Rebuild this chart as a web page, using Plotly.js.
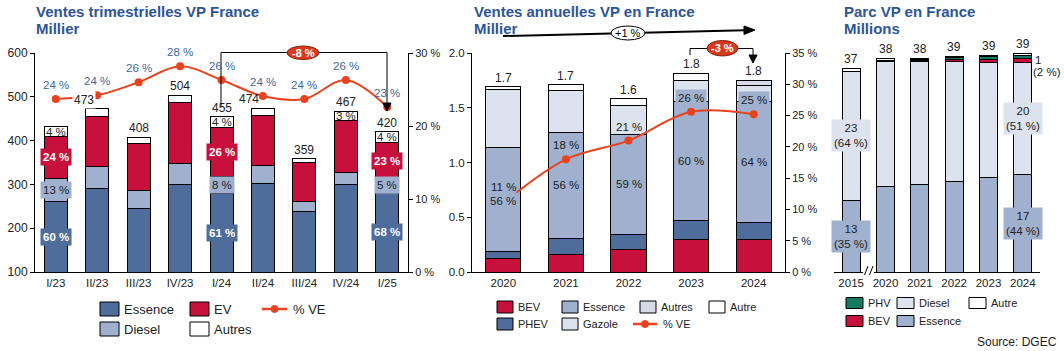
<!DOCTYPE html>
<html><head><meta charset="utf-8">
<script src="https://cdn.plot.ly/plotly-3.0.1.min.js"></script>
<style>html,body{margin:0;padding:0;background:#fff;}#chart{width:1064px;height:351px;}</style>
</head><body><div id="chart"></div>
<script>
// ---------- Panel 1: quarterly sales (thousands) ----------
const quarters = ['I/23','II/23','III/23','IV/23','I/24','II/24','III/24','IV/24','I/25'];
const qEssence = [262, 290, 246, 299, 280, 303, 237, 299, 283];
const qDiesel  = [ 52,  50,  41,  48,  37,  41,  25,  29,  29];
const qEV      = [ 95, 114, 107, 141, 114, 114,  87, 117,  83];
const qAutres  = [ 23,  19,  14,  16,  24,  16,  10,  22,  25];
const qTotalLabels = ['', '473', '408', '504', '455', '474', '359', '467', '420'];
const qShareVE = [23.7, 24.2, 26.0, 28.2, 26.3, 24.1, 23.7, 26.3, 22.6];
const qShareVELabels = ['24 %','24 %','26 %','28 %','26 %','24 %','24 %','26 %','23 %'];
const qEssLabels = ['60 %','','','','61 %','','','','68 %'];
const qDieLabels = ['13 %','','','','8 %','','','','5 %'];
const qEVLabels  = ['24 %','','','','26 %','','','','23 %'];
const qAutLabels = ['4 %','','','','4 %','','','3 %','4 %'];
const qChange = '-8 %';
const qLeftTicks = [100, 200, 300, 400, 500, 600];
const qRightTicks = [0, 10, 20, 30];

// ---------- Panel 2: annual sales (millions) ----------
const years = ['2020','2021','2022','2023','2024'];
const yBEV     = [0.12, 0.16, 0.21, 0.30, 0.30];
const yPHEV    = [0.07, 0.15, 0.13, 0.17, 0.15];
const yEssence = [0.95, 0.96, 0.92, 1.09, 1.11];
const yGazole  = [0.53, 0.39, 0.265, 0.19, 0.14];
const yAutres  = [0, 0, 0, 0, 0.05];
const yAutre   = [0.02, 0.05, 0.055, 0.065, 0];
const yTotalLabels = ['1.7','1.7','1.6','1.8','1.8'];
const yShareVE = [11, 18, 21, 25.6, 25.2];
const yShareVELabels = ['11 %','18 %','21 %','26 %','25 %'];
const yEssLabels = ['56 %','56 %','59 %','60 %','64 %'];
const yChange = '-3 %';
const yChangeLong = '+1 %';
const yLeftTicks = [0, 0.5, 1, 1.5, 2];
const yRightTicks = [0, 5, 10, 15, 20, 25, 30, 35];

// ---------- Panel 3: fleet (millions) ----------
const parcYears = ['2015','2020','2021','2022','2023','2024'];
const pEssence = [13.15, 15.7, 16.07, 16.6, 17.17, 17.9];
const pDiesel  = [23.55, 22.66, 22.34, 21.8, 21.06, 20.33];
const pBEV     = [0, 0.1, 0.2, 0.4, 0.6, 0.8];
const pPHV     = [0, 0.1, 0.15, 0.3, 0.5, 0.5];
const pAutre   = [0.5, 0.47, 0.28, 0.3, 0.3, 0.4];
const pTotalLabels = ['37','38','38','39','39','39'];
const pEssLabels = ['13<br>(35 %)','','','','','17<br>(44 %)'];
const pDieLabels = ['23<br>(64 %)','','','','','20<br>(51 %)'];
const pEVLabel = ['1','(2 %)'];

// ---------- styles ----------
const C = {
  ess: '#4F6D9B', die: '#9FB1CF', ev: '#C8103C', line: '#E8431F',
  light: '#DCE3EE', autres: '#D5DCE8', phv: '#127A62', title: '#2E5596', txt: '#222', lbl: '#44679B'
};
const FONT = 'Liberation Sans, Arial, sans-serif';
const W = 1064, H = 351;
const px = x => x / W, py = y => 1 - y / H;
const yd = [py(272), py(53)];

function cum(arrs) {
  const bases = []; let acc = arrs[0].map(() => 0);
  arrs.forEach(a => { bases.push(acc.slice()); acc = acc.map((v, i) => v + a[i]); });
  bases.push(acc); return bases;
}
const bl = {color: '#000', width: 1};
function bar(x, y, color, xa, ya, w, name) {
  return {type: 'bar', x, y, name, xaxis: xa, yaxis: ya, width: w, marker: {color, line: bl},
          showlegend: false, hoverinfo: 'skip'};
}

const traces = [
  bar(quarters, qEssence, C.ess, 'x', 'y', 0.555, 'Essence'),
  bar(quarters, qDiesel, C.die, 'x', 'y', 0.555, 'Diesel'),
  bar(quarters, qEV, C.ev, 'x', 'y', 0.555, 'EV'),
  bar(quarters, qAutres, '#fff', 'x', 'y', 0.555, 'Autres'),
  {type: 'scatter', mode: 'lines+markers', x: quarters, y: qShareVE, xaxis: 'x', yaxis: 'y2',
   line: {color: C.line, width: 2, shape: 'spline', smoothing: 1}, marker: {color: C.line, size: 8},
   showlegend: false, hoverinfo: 'skip', cliponaxis: false},

  bar(years, yBEV, C.ev, 'x2', 'y3', 0.56, 'BEV'),
  bar(years, yPHEV, C.ess, 'x2', 'y3', 0.56, 'PHEV'),
  bar(years, yEssence, C.die, 'x2', 'y3', 0.56, 'Essence'),
  bar(years, yGazole, C.light, 'x2', 'y3', 0.56, 'Gazole'),
  bar(years, yAutres, C.autres, 'x2', 'y3', 0.56, 'Autres'),
  bar(years, yAutre, '#fff', 'x2', 'y3', 0.56, 'Autre'),
  {type: 'scatter', mode: 'lines+markers', x: years, y: yShareVE, xaxis: 'x2', yaxis: 'y4',
   line: {color: C.line, width: 2, shape: 'spline', smoothing: 1}, marker: {color: C.line, size: 8},
   showlegend: false, hoverinfo: 'skip', cliponaxis: false},

  bar(parcYears, pEssence, C.die, 'x3', 'y5', 0.53, 'Essence'),
  bar(parcYears, pDiesel, C.light, 'x3', 'y5', 0.53, 'Diesel'),
  bar(parcYears, pBEV, C.ev, 'x3', 'y5', 0.53, 'BEV'),
  bar(parcYears, pPHV, C.phv, 'x3', 'y5', 0.53, 'PHV'),
  bar(parcYears, pAutre, '#fff', 'x3', 'y5', 0.53, 'Autre')
];

const ann = [], shapes = [];
function A(o) {
  ann.push(Object.assign({showarrow: false, xanchor: 'center', yanchor: 'middle',
    font: {family: FONT, size: 11, color: C.txt}}, o));
}
function T(x, y, text, size, color, opts) {
  A(Object.assign({xref: 'paper', yref: 'paper', x: px(x), y: py(y), text, xanchor: 'left', yanchor: 'middle',
    font: {family: FONT, size, color}}, opts || {}));
}

// Titles
[[35, 'Ventes trimestrielles VP France'], [473, 'Ventes annuelles VP en France'], [843, 'Parc VP en France']].forEach(t =>
  T(t[0] - 1, 12, '<b>' + t[1] + '</b>', 15, C.title));
[[35, 'Millier'], [473, 'Millier'], [843, 'Millions']].forEach(t => T(t[0] - 1, 28.5, '<b>' + t[1] + '</b>', 15, C.title));

// Panel 1 labels (x given as category index)
const qB = cum([qEssence, qDiesel, qEV, qAutres]);
const mid = (lo, hi, min) => (Math.max(lo, min) + hi) / 2;
quarters.forEach((q, i) => {
  const segs = [
    [qEssLabels[i], qB[0][i], qB[1][i], {color: '#fff', bg: C.ess, bold: true}],
    [qDieLabels[i], qB[1][i], qB[2][i], {color: C.txt, bg: C.die}],
    [qEVLabels[i], qB[2][i], qB[3][i], {color: '#fff', bg: C.ev, bold: true}],
    [qAutLabels[i], qB[3][i], qB[4][i], {color: C.txt}]
  ];
  segs.forEach(s => {
    if (!s[0]) return;
    const o = {xref: 'x', yref: 'y', x: i, y: mid(s[1], s[2], 100), text: s[3].bold ? '<b>' + s[0] + '</b>' : s[0],
       borderpad: 2, font: {family: FONT, size: 11.5, color: s[3].color}};
    if (s[3].bg) o.bgcolor = s[3].bg;
    A(o);
  });
  const dx = [0, -13, 0, 0, 0, -14, 0, 0, 0][i];
  if (qTotalLabels[i]) {
    const o = {xref: 'x', yref: 'y', x: i, y: qB[4][i], text: qTotalLabels[i], yshift: 9, xshift: dx,
      borderpad: 1, font: {family: FONT, size: 12, color: C.txt}};
    if (i === 1) o.bgcolor = '#fff';
    A(o);
  }
  A({xref: 'x', yref: 'y2', x: i, y: qShareVE[i], text: qShareVELabels[i], yshift: 14,
     font: {family: FONT, size: 11.5, color: C.lbl}});
});

// Panel 2 labels
const yB = cum([yBEV, yPHEV, yEssence, yGazole, yAutres, yAutre]);
years.forEach((yr, i) => {
  const o1 = {xref: 'x2', yref: 'y3', x: i, y: (yB[2][i] + yB[3][i]) / 2, text: yEssLabels[i], borderpad: 1,
     font: {family: FONT, size: 11.5, color: C.txt}};
  if (i === 0) { o1.bgcolor = C.die; o1.yshift = -1.5; }
  A(o1);
  const o2 = {xref: 'x2', yref: 'y4', x: i, y: yShareVE[i], text: yShareVELabels[i], yshift: 14, borderpad: 2,
     font: {family: FONT, size: 11.5, color: C.txt}};
  if (i === 0) { o2.yshift = 16; o2.borderpad = 0; }
  if (i === 0 || i >= 3) o2.bgcolor = C.die;
  A(o2);
  A({xref: 'x2', yref: 'y3', x: i, y: yB[6][i], text: yTotalLabels[i], yshift: 9,
     font: {family: FONT, size: 12, color: C.txt}});
});

// Panel 3 labels
const pB = cum([pEssence, pDiesel, pBEV, pPHV, pAutre]);
parcYears.forEach((yr, i) => {
  if (pEssLabels[i]) A({xref: 'x3', yref: 'y5', x: i, y: (pB[0][i] + pB[1][i]) / 2, text: pEssLabels[i],
     bgcolor: C.die, borderpad: 2, font: {family: FONT, size: 11.5, color: C.txt}});
  if (pDieLabels[i]) A({xref: 'x3', yref: 'y5', x: i, y: (pB[1][i] + pB[2][i]) / 2, text: pDieLabels[i],
     bgcolor: C.light, borderpad: 2, font: {family: FONT, size: 11.5, color: C.txt}});
  A({xref: 'x3', yref: 'y5', x: i, y: pB[5][i], text: pTotalLabels[i], yshift: 9,
     font: {family: FONT, size: 12, color: C.txt}});
});
T(1033, 60, pEVLabel[0], 11.5, C.txt);
T(1031, 72, pEVLabel[1], 11.5, C.txt);

// Decorations
function path(pts, color, width, fill) {
  const d = pts.map((p, k) => (k ? 'L' : 'M') + px(p[0]) + ',' + py(p[1])).join(' ') + (fill ? ' Z' : '');
  shapes.push({type: 'path', xref: 'paper', yref: 'paper', path: d, line: {color, width}, fillcolor: fill || 'rgba(0,0,0,0)'});
}
function ellipse(x0, y0, x1, y1, fill, line) {
  shapes.push({type: 'circle', xref: 'paper', yref: 'paper', x0: px(x0), x1: px(x1), y0: py(y1), y1: py(y0),
    fillcolor: fill, line: {color: line, width: 1}});
}
// -8 %
path([[221, 107], [221, 52.5], [387, 52.5], [387, 104]], '#000', 1);
path([[383, 103], [391, 103], [387, 111]], '#000', 1, '#000');
ellipse(287, 46, 319, 59.5, '#D93A1E', '#8a1c0c');
A({xref: 'paper', yref: 'paper', x: px(303), y: py(52.7), text: '<b>' + qChange + '</b>', font: {family: FONT, size: 11, color: '#fff'}});
// -3 %
path([[690, 55], [690, 48.5], [753, 48.5], [753, 56]], '#000', 1);
path([[749, 55], [757, 55], [753, 63]], '#000', 1, '#000');
ellipse(707, 40.5, 738, 56, '#D93A1E', '#8a1c0c');
A({xref: 'paper', yref: 'paper', x: px(722.5), y: py(48.3), text: '<b>' + yChange + '</b>', font: {family: FONT, size: 11, color: '#fff'}});
// +1 %
path([[503, 36], [745, 30.2]], '#000', 2);
path([[744, 26], [744, 34.5], [755, 30]], '#000', 1, '#000');
ellipse(611, 26, 645, 40, '#fff', '#000');
A({xref: 'paper', yref: 'paper', x: px(628), y: py(33), text: yChangeLong, font: {family: FONT, size: 11, color: '#000'}});

// Axis break on panel 3
shapes.push({type: 'rect', xref: 'paper', yref: 'paper', x0: px(863), x1: px(874), y0: py(274), y1: py(270), fillcolor: '#fff', line: {width: 0}});
path([[864.5, 275], [868, 266]], '#000', 1);
path([[869.5, 275], [873, 266]], '#000', 1);

// Legends
function lbox(x, y, w, h, fill, label, size) {
  shapes.push({type: 'rect', xref: 'paper', yref: 'paper', x0: px(x), x1: px(x + w), y0: py(y + h / 2), y1: py(y - h / 2),
    fillcolor: fill, line: {color: '#000', width: 1}});
  T(x + w + 3, y, label, size, C.txt);
}
function lline(x0, x1, y, label, size) {
  path([[x0, y], [x1, y]], C.line, 2.5);
  ellipse((x0 + x1) / 2 - 3.5, y - 3.5, (x0 + x1) / 2 + 3.5, y + 3.5, C.line, C.line);
  T(x1 + 4, y, label, size, C.txt);
}
lbox(100, 309, 19, 14, C.ess, 'Essence', 13);
lbox(190, 309, 19, 14, C.ev, 'EV', 13);
lline(262, 287, 309, '% VE', 13);
lbox(100, 329, 19, 14, C.die, 'Diesel', 13);
lbox(190, 329, 19, 14, '#fff', 'Autres', 13);

lbox(497, 307, 16, 12, C.ev, 'BEV', 11);
lbox(562, 307, 16, 12, C.die, 'Essence', 11);
lbox(640, 307, 16, 12, C.autres, 'Autres', 11);
lbox(709, 307, 16, 12, '#fff', 'Autre', 11);
lbox(497, 324, 16, 12, C.ess, 'PHEV', 11);
lbox(562, 324, 16, 12, C.light, 'Gazole', 11);
lline(633, 657, 324, '% VE', 11);

lbox(846, 303, 17, 11, C.phv, 'PHV', 11);
lbox(897, 303, 17, 11, C.light, 'Diesel', 11);
lbox(969, 303, 17, 11, '#fff', 'Autre', 11);
lbox(846, 321, 17, 11, C.ev, 'BEV', 11);
lbox(897, 321, 17, 11, C.die, 'Essence', 11);

T(1059, 342, 'Source: DGEC', 12, C.txt, {xanchor: 'right'});

const tf = s => ({family: FONT, size: s, color: C.txt});
const pct = v => v + ' %';
const xa = (dom, anchor, n) => ({domain: dom, anchor, type: 'category', range: [-0.5, n - 0.5], showline: true,
  linecolor: '#000', linewidth: 1, ticks: '', tickfont: tf(11.5), showgrid: false, zeroline: false, fixedrange: true});
const ya = (o) => Object.assign({domain: yd, showline: true, linecolor: '#000', linewidth: 1, ticks: 'outside',
  ticklen: 4, tickcolor: '#000', showgrid: false, zeroline: false, tickfont: tf(11.5), fixedrange: true,
  tickmode: 'array'}, o);

const layout = {
  width: W, height: H, margin: {l: 0, r: 0, t: 0, b: 0}, paper_bgcolor: '#fff', plot_bgcolor: 'rgba(0,0,0,0)',
  barmode: 'stack', showlegend: false, font: {family: FONT},
  xaxis: xa([px(35), px(408)], 'y', quarters.length),
  yaxis: ya({anchor: 'x', range: [100, 600], tickvals: qLeftTicks, ticktext: qLeftTicks.map(String), tickfont: tf(12)}),
  yaxis2: ya({anchor: 'x', overlaying: 'y', side: 'right', range: [0, 30], tickvals: qRightTicks,
    ticktext: qRightTicks.map(pct), tickfont: tf(11)}),
  xaxis2: xa([px(472), px(785)], 'y3', years.length),
  yaxis3: ya({anchor: 'x2', range: [0, 2], tickvals: yLeftTicks, ticktext: yLeftTicks.map(v => v.toFixed(1)), tickfont: tf(11.5)}),
  yaxis4: ya({anchor: 'x2', overlaying: 'y3', side: 'right', range: [0, 35], tickvals: yRightTicks,
    ticktext: yRightTicks.map(pct), tickfont: tf(11)}),
  xaxis3: xa([px(834), px(1040)], 'y5', parcYears.length),
  yaxis5: {domain: yd, anchor: 'x3', range: [0, 40], visible: false, fixedrange: true},
  annotations: ann, shapes: shapes
};
Plotly.newPlot('chart', traces, layout, {staticPlot: true, displayModeBar: false});
</script></body></html>
